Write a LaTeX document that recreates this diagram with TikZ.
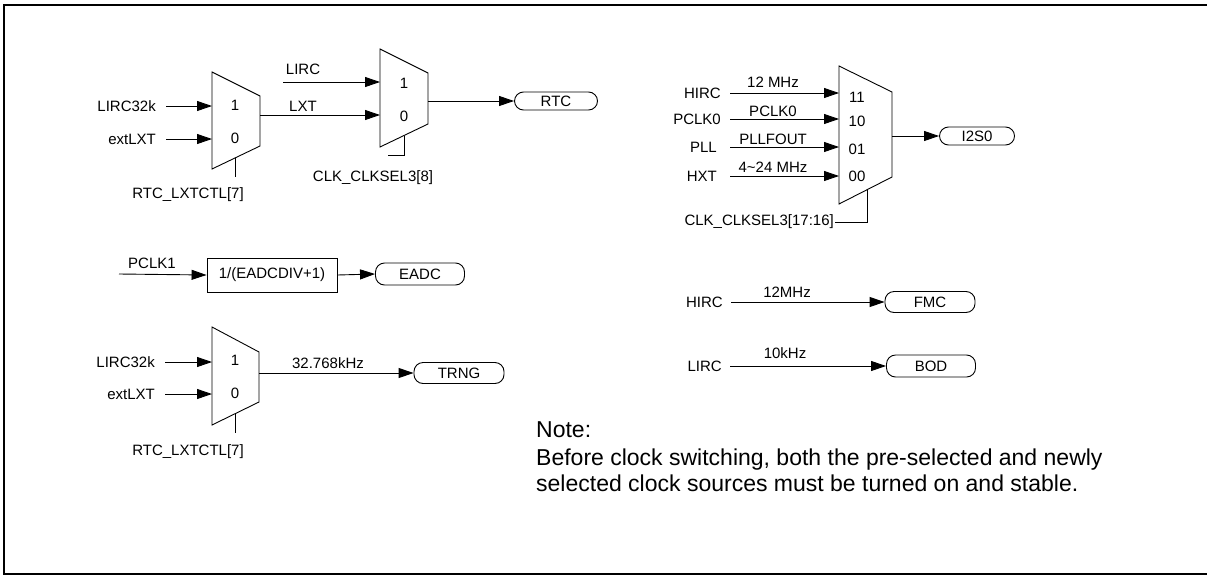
\documentclass[tikz,border=0pt]{standalone}
\usepackage{fontspec}
\setmainfont{Liberation Sans}
\usetikzlibrary{arrows.meta, positioning}

\tikzset{
  sig/.style={line width=0.9pt, -{Triangle[length=15pt,width=10pt]}},
  wire/.style={line width=0.9pt},
  lbl/.style={inner sep=0pt, font=\fontsize{15}{18}\selectfont},
  notetxt/.style={inner sep=0pt, anchor=base west, font=\fontsize{23}{26}\selectfont},
  muxbox/.style={line width=0.9pt},
  term/.style={draw, line width=0.9pt, rounded corners=9pt, inner sep=0pt, font=\fontsize{15}{18}\selectfont},
  divbox/.style={draw, line width=0.9pt, inner sep=0pt, minimum width=130pt, minimum height=34pt, font=\fontsize{15}{18}\selectfont}
}

\begin{document}
\begin{tikzpicture}[x=1pt, y=-1pt]
        \useasboundingbox (0,0) rectangle (1207,576);
        % Cadre
        \draw[line width=2pt] (1207,5) -- (4,5) -- (4,574) -- (1207,574);

        % Mux RTC_LXTCTL (haut)
        \draw[muxbox] (212,72) -- (260,96) -- (260,146) -- (212,169) -- cycle;
        \node[lbl] (ma1) at (235,105) {1};
        \node[lbl] (ma0) at (235,138) {0};
        \coordinate (mai1) at (212,106);
        \coordinate (mai0) at (212,139);
        \coordinate (maout) at (260,115);
        \coordinate (masel) at (235,158);
        \node[lbl, anchor=east] (lirca) at (156,106) {LIRC32k};
        \node[lbl, anchor=east] (extlxta) at (156,139) {extLXT};
        \draw[sig] ([xshift=10pt]lirca.east) -- (mai1);
        \draw[sig] ([xshift=10pt]extlxta.east) -- (mai0);
        \node[lbl] (selA) at (188,195) {RTC\_LXTCTL[7]};
        \draw[wire] (masel) -- ++(0,19);

        % Mux CLK_CLKSEL3[8]
        \draw[muxbox] (380,49) -- (428,73) -- (428,124) -- (380,147) -- cycle;
        \node[lbl] (mb1) at (404,83) {1};
        \node[lbl] (mb0) at (404,116) {0};
        \coordinate (mbi1) at (380,82);
        \coordinate (mbi0) at (380,115);
        \coordinate (mbout) at (428,101);
        \coordinate (mbsel) at (404,136);
        \coordinate (lircin) at (283,82);
        \node[lbl] (lirclbl) at (303,69) {LIRC};
        \node[lbl] (lxtlbl) at (303,106) {LXT};
        \draw[sig] (lircin) -- (mbi1);
        \draw[sig] (maout) -- (mbi0);
        \node[term, minimum width=83pt, minimum height=18pt] (rtc) at (556,101) {RTC};
        \draw[sig] (mbout) -- (rtc.west);
        \draw[wire] (mbsel) -- (404,155) -- (388,155);
        \node[lbl] (selB) at (373,178) {CLK\_CLKSEL3[8]};

        % Mux I2S0
        \draw[muxbox] (839,66) -- (892,92) -- (892,177) -- (839,204) -- cycle;
        \node[lbl] (mc11) at (857,97) {11};
        \node[lbl] (mc10) at (857,121) {10};
        \node[lbl] (mc01) at (857,149) {01};
        \node[lbl] (mc00) at (857,176) {00};
        \coordinate (mci3) at (839,93);
        \coordinate (mci2) at (839,119);
        \coordinate (mci1) at (839,147);
        \coordinate (mci0) at (839,176);
        \coordinate (mcout) at (892,136);
        \coordinate (mcsel) at (867,190);
        \node[lbl, anchor=east] (hircc) at (721,93) {HIRC};
        \node[lbl, anchor=east] (pclk0c) at (721,119) {PCLK0};
        \node[lbl, anchor=east] (pllc) at (717,147) {PLL};
        \node[lbl, anchor=east] (hxtc) at (717,176) {HXT};
        \draw[sig] (730,93) -- (mci3);
        \draw[sig] (730,119) -- (mci2);
        \draw[sig] (730,147) -- (mci1);
        \draw[sig] (730,176) -- (mci0);
        \node[lbl] at (773,82) {12 MHz};
        \node[lbl] at (773,111) {PCLK0};
        \node[lbl] at (773,139) {PLLFOUT};
        \node[lbl] at (773,167) {4\textasciitilde 24 MHz};
        \node[term, minimum width=75pt, minimum height=18pt] (i2s) at (977,136) {I2S0};
        \draw[sig] (mcout) -- (i2s.west);
        \draw[wire] (mcsel) -- (867,222) -- (835,222);
        \node[lbl, anchor=east] (selC) at (834,222) {CLK\_CLKSEL3[17:16]};

        % Diviseur EADC
        \node[lbl] (pclk1) at (152,263) {PCLK1};
        \node[divbox] (div) at (272,275) {1/(EADCDIV+1)};
        \node[term, minimum width=89pt, minimum height=22pt] (eadc) at (420,274) {EADC};
        \draw[sig] (119,274) -- (div.west);
        \draw[sig] (div.east) -- (eadc.west);

        % Mux TRNG
        \draw[muxbox] (212,327) -- (259,352) -- (259,402) -- (212,425) -- cycle;
        \node[lbl] (md1) at (235,360) {1};
        \node[lbl] (md0) at (235,393) {0};
        \coordinate (mdi1) at (212,362);
        \coordinate (mdi0) at (212,394);
        \coordinate (mdout) at (259,373);
        \coordinate (mdsel) at (235,414);
        \node[lbl, anchor=east] (lircd) at (155,362) {LIRC32k};
        \node[lbl, anchor=east] (extlxtd) at (155,394) {extLXT};
        \draw[sig] ([xshift=10pt]lircd.east) -- (mdi1);
        \draw[sig] ([xshift=10pt]extlxtd.east) -- (mdi0);
        \node[term, minimum width=90pt, minimum height=21pt] (trng) at (459,373) {TRNG};
        \draw[sig] (mdout) -- (trng.west);
        \node[lbl] at (328,363) {32.768kHz};
        \draw[wire] (mdsel) -- ++(0,19);
        \node[lbl] (selD) at (188,452) {RTC\_LXTCTL[7]};

        % FMC et BOD
        \node[lbl, anchor=east] (hircf) at (723,302) {HIRC};
        \node[term, minimum width=90pt, minimum height=21pt] (fmc) at (930,302) {FMC};
        \draw[sig] ([xshift=8pt]hircf.east) -- (fmc.west);
        \node[lbl] at (787,292) {12MHz};
        \node[lbl, anchor=east] (lircb) at (722,366) {LIRC};
        \node[term, minimum width=89pt, minimum height=22pt] (bod) at (931,366) {BOD};
        \draw[sig] ([xshift=8pt]lircb.east) -- (bod.west);
        \node[lbl] at (785,353) {10kHz};

        % Note
        \node[notetxt] (note) at (536,437) {Note:};
        \node[notetxt] (note1) at (536,465) {Before clock switching, both the pre-selected and newly};
        \node[notetxt] (note2) at (536,491) {selected clock sources must be turned on and stable.};
\end{tikzpicture}
\end{document}
